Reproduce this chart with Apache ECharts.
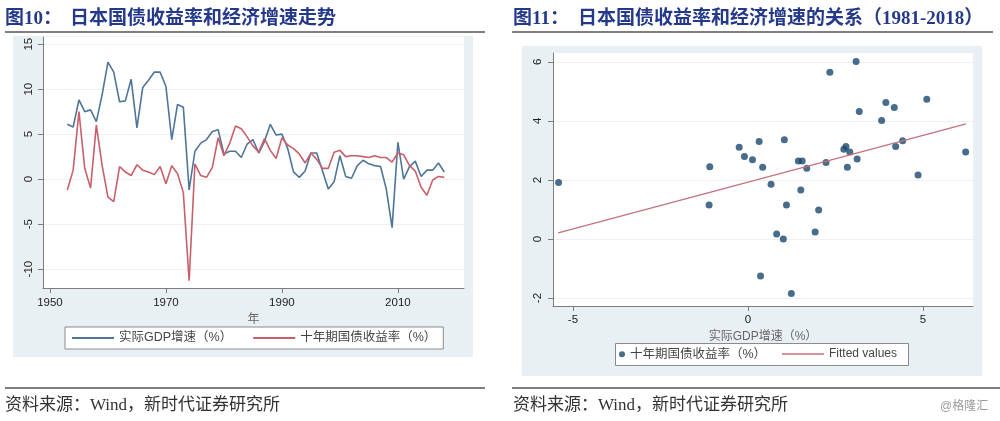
<!DOCTYPE html>
<html><head><meta charset="utf-8">
<script src="https://cdn.jsdelivr.net/npm/echarts@6/dist/echarts.min.js"></script>
<style>html,body{margin:0;padding:0;background:#fff}#c{width:1000px;height:421px}</style>
</head><body><div id="c"></div>
<script>
// ---- data ----
const years = [1953,1954,1955,1956,1957,1958,1959,1960,1961,1962,1963,1964,1965,1966,1967,1968,1969,1970,
  1971,1972,1973,1974,1975,1976,1977,1978,1979,1980,1981,1982,1983,1984,1985,1986,1987,1988,1989,1990,
  1991,1992,1993,1994,1995,1996,1997,1998,1999,2000,2001,2002,2003,2004,2005,2006,2007,2008,2009,2010,
  2011,2012,2013,2014,2015,2016,2017,2018];
const gdpGrowth = [6.1,5.8,8.8,7.5,7.7,6.4,9.4,13.0,11.9,8.6,8.7,11.1,5.7,10.2,11.0,11.9,11.9,10.3,
  4.4,8.3,8.0,-1.2,3.1,4.0,4.4,5.3,5.5,2.8,3.1,3.1,2.4,3.9,4.4,2.9,4.2,6.1,4.9,5.0,
  3.4,0.8,0.2,0.9,2.9,2.9,0.9,-1.1,-0.3,2.6,0.3,0.1,1.5,2.1,1.7,1.5,1.4,-1.1,-5.4,4.1,
  0.0,1.4,2.0,0.3,1.0,1.0,1.8,0.8];
const bondYield = [-1.2,1.0,7.5,1.2,-1.0,6.0,1.5,-2.0,-2.5,1.4,0.8,0.4,1.6,1.0,0.8,0.5,1.4,-0.5,
  1.5,0.6,-1.5,-11.3,1.7,0.4,0.2,1.3,4.6,2.6,4.0,5.9,5.6,4.7,3.7,3.0,4.5,3.2,2.3,4.6,
  3.8,3.4,2.8,1.8,2.9,2.2,1.2,1.2,3.0,3.2,2.5,2.6,2.6,2.5,2.4,2.6,2.4,2.4,1.9,2.9,
  2.7,1.5,0.9,-0.9,-1.8,-0.1,0.3,0.2];
const scatterGdp = [-5.41,-1.09,-1.11,-0.25,-0.10,0.13,0.32,0.42,0.66,1.04,1.44,1.55,1.68,1.51,2.23,2.34,
  2.74,2.80,2.91,2.84,3.12,3.09,3.18,3.82,3.94,4.18,4.22,4.42,4.86,5.11,6.22,1.10,2.02,0.82,1.01,1.92,0.36,1.24];
const scatterYield = [1.91,2.45,1.15,3.11,2.79,2.68,3.30,2.43,1.85,3.36,2.64,2.64,2.40,1.66,2.59,5.65,
  3.04,3.13,2.95,2.43,2.71,6.01,4.32,4.01,4.62,4.45,3.13,3.33,2.17,4.73,2.95,1.15,0.98,0.17,0.00,0.24,-1.25,-1.85];
const fitGdp = [-5.42, 6.23];
const fitYield = [0.21, 3.90];
const leftXTicks = [1950,1970,1990,2010];
const leftYTicks = [-10,-5,0,5,10,15];
const rightXTicks = [-5,0,5];
const rightYTicks = [-2,0,2,4,6];
const nameGdp = '实际GDP增速（%）';
const nameYield = '十年期国债收益率（%）';
const nameScatter = '十年期国债收益率（%） ';
const nameFit = 'Fitted values';

// ---- chart ----
const chart = echarts.init(document.getElementById('c'), null, {renderer:'canvas'});
const F = "'Liberation Sans','Noto Sans CJK SC',sans-serif";
const FS = "'Liberation Serif','Noto Sans CJK SC',serif";
const titleColor = '#24398a';
const axisCol = '#7d7d7d';
const gridCol = '#edf1f3';
const panel = '#e9f0f3';
const blue = '#4f7598', red = '#c8606a', fitRed = '#c4737a';

function xAx(grid, min, max, ticks, name, gap, margin){
  return {type:'value', gridIndex:grid, min:min, max:max,
    name:name, nameLocation:'middle', nameGap:gap,
    nameTextStyle:{color:'#666', fontSize:12, fontFamily:F},
    axisLine:{show:true, onZero:false, lineStyle:{color:axisCol, width:1}},
    axisTick:{show:true, length:5, customValues:ticks, lineStyle:{color:axisCol}},
    axisLabel:{customValues:ticks, margin:margin, color:'#222', fontSize:11.5, fontFamily:F,
      formatter:v=>String(v)},
    splitLine:{show:false}};
}
function yAx(grid, min, max, ticks, margin){
  return {type:'value', gridIndex:grid, min:min, max:max,
    axisLine:{show:true, onZero:false, lineStyle:{color:axisCol, width:1}},
    axisTick:{show:true, length:5, customValues:ticks, lineStyle:{color:axisCol}},
    axisLabel:{customValues:ticks, rotate:90, margin:margin, color:'#222', fontSize:11.5, fontFamily:F,
      formatter:v=>String(v)},
    splitLine:{show:true, lineStyle:{color:gridCol, width:1}}};
}

const option = {
  animation:false,
  backgroundColor:'#fff',
  graphic:[
    {type:'rect', z:-10, shape:{x:13,y:36,width:460,height:321}, style:{fill:panel}},
    {type:'rect', z:-10, shape:{x:522,y:46,width:460,height:330}, style:{fill:panel}},
    {type:'text', style:{text:'图10：', x:5, y:19, fill:titleColor, font:"bold 19px "+FS, verticalAlign:'middle'}},
    {type:'text', style:{text:'日本国债收益率和经济增速走势', x:70, y:19, fill:titleColor, font:"bold 19px "+FS, verticalAlign:'middle'}},
    {type:'text', style:{text:'图11：', x:513, y:19, fill:titleColor, font:"bold 19px "+FS, verticalAlign:'middle'}},
    {type:'text', style:{text:'日本国债收益率和经济增速的关系（1981-2018）', x:578, y:19, fill:titleColor, font:"bold 19px "+FS, verticalAlign:'middle'}},
    {type:'line', shape:{x1:5,y1:32,x2:485,y2:32}, style:{stroke:'#555', lineWidth:1.5}},
    {type:'line', shape:{x1:512,y1:32,x2:993,y2:32}, style:{stroke:'#555', lineWidth:1.5}},
    {type:'line', shape:{x1:5,y1:388,x2:485,y2:388}, style:{stroke:'#555', lineWidth:1.5}},
    {type:'line', shape:{x1:512,y1:388,x2:1000,y2:388}, style:{stroke:'#555', lineWidth:1.5}},
    {type:'text', style:{text:'资料来源：Wind，新时代证券研究所', x:5, y:406, fill:'#333', font:"17px "+FS, verticalAlign:'middle'}},
    {type:'text', style:{text:'资料来源：Wind，新时代证券研究所', x:513, y:406, fill:'#333', font:"17px "+FS, verticalAlign:'middle'}},
    {type:'text', style:{text:'@格隆汇', x:940, y:407, fill:'#9a9a9a', font:"12px "+F, verticalAlign:'middle'}},
    {type:'rect', shape:{x:615.5,y:343.5,width:293,height:22}, style:{fill:'#fff', stroke:'#8a8a8a', lineWidth:1}}
  ],
  grid:[
    {left:43, top:37, right:1000-464, bottom:421-288, show:true, backgroundColor:'#fff', borderWidth:0},
    {left:553, top:53, right:1000-973, bottom:421-306, show:true, backgroundColor:'#fff', borderWidth:0}
  ],
  legend:[
    {left:65, top:327, padding:[4,7,4,7], itemWidth:42, itemHeight:2, itemGap:21, icon:'rect',
     borderColor:'#8a8a8a', borderWidth:1, backgroundColor:'#fff',
     textStyle:{fontSize:12.5, color:'#444', fontFamily:F, lineHeight:14}, data:[nameGdp, nameYield]},
    {left:617, top:346, padding:[2,2,2,2], itemWidth:6, itemHeight:6, icon:'circle',
     textStyle:{fontSize:12.5, color:'#444', fontFamily:F}, data:[nameScatter]},
    {left:780, top:346, padding:[2,2,2,2], itemWidth:42, itemHeight:1.5, icon:'rect',
     textStyle:{fontSize:12, color:'#444', fontFamily:F}, data:[nameFit]}
  ],
  xAxis:[
    xAx(0, 1948.8, 2021.4, leftXTicks, '年', 19, 9),
    xAx(1, -5.57, 6.43, rightXTicks, '实际GDP增速（%）', 18, 8)
  ],
  yAxis:[
    yAx(0, -12.1, 15.8, leftYTicks, 8),
    yAx(1, -2.27, 6.3, rightYTicks, 9)
  ],
  series:[
    {name:nameGdp, type:'line', xAxisIndex:0, yAxisIndex:0, symbol:'none',
     lineStyle:{color:blue, width:1.6}, itemStyle:{color:blue},
     data:years.map((y,i)=>[y, gdpGrowth[i]])},
    {name:nameYield, type:'line', xAxisIndex:0, yAxisIndex:0, symbol:'none',
     lineStyle:{color:red, width:1.6}, itemStyle:{color:red},
     data:years.map((y,i)=>[y, bondYield[i]])},
    {name:nameScatter, type:'scatter', xAxisIndex:1, yAxisIndex:1, symbolSize:7,
     itemStyle:{color:'#1a476f'}, data:scatterGdp.map((x,i)=>[x, scatterYield[i]])},
    {name:nameFit, type:'line', xAxisIndex:1, yAxisIndex:1, symbol:'none',
     lineStyle:{color:fitRed, width:1.3}, itemStyle:{color:fitRed},
     data:fitGdp.map((x,i)=>[x, fitYield[i]])}
  ]
};
chart.setOption(option);
</script></body></html>
